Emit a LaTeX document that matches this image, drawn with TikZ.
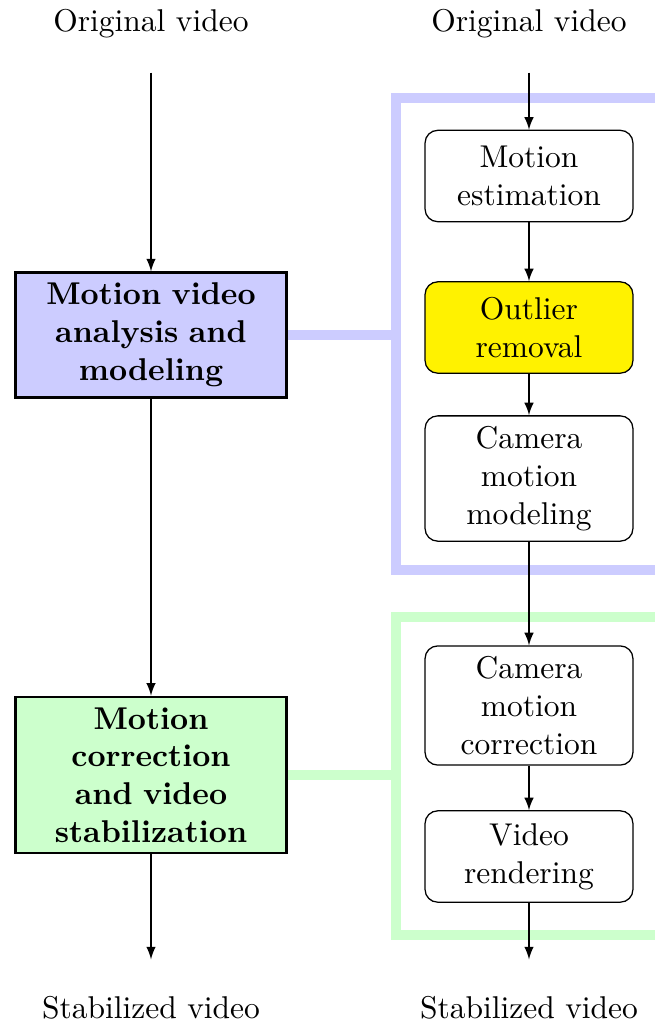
\documentclass[tikz,border=0pt]{standalone}
\usepackage{tikz}
\usetikzlibrary{arrows,positioning,backgrounds}
\usepackage{xcolor}

\begin{document}
\begin{tikzpicture}[
  x=0.3175pt, y=-0.3175pt,
  io/.style={align=center, minimum height=30.5pt},
  stage/.style={rectangle, draw, thick, minimum width=86pt, text width=68pt, align=center, font=\bfseries},
  substep/.style={rectangle, draw, rounded corners=4pt, minimum width=66pt, text width=58pt, minimum height=29pt, align=center},
  arr/.style={-latex},
  frame/.style={line width=3.2pt}
]
  \useasboundingbox (0,0) rectangle (655,1025);

  % left column
  \node[io] (origL) at (151,24) {Original video};
  \node[stage, fill=blue!20] (analysis) at (151,335) {Motion video analysis and modeling};
  \node[stage, fill=green!20] (correct) at (151,775) {Motion correction and video stabilization};
  \node[io] (stabL) at (151,1008) {Stabilized video};

  % right column
  \node[io] (origR) at (529,24) {Original video};
  \node[substep] (estim) at (529,176) {Motion estimation};
  \node[substep, fill=yellow] (outlier) at (529,327.5) {Outlier removal};
  \node[substep] (camodel) at (529,478.5) {Camera motion modeling};
  \node[substep] (camcorr) at (529,705.5) {Camera motion correction};
  \node[substep] (render) at (529,856.5) {Video rendering};
  \node[io] (stabR) at (529,1008) {Stabilized video};

  \draw[arr] (origL) -- (analysis);
  \draw[arr] (analysis) -- (correct);
  \draw[arr] (correct) -- (stabL);

  \draw[arr] (origR) -- (estim);
  \draw[arr] (estim) -- (outlier);
  \draw[arr] (outlier) -- (camodel);
  \draw[arr] (camodel) -- (camcorr);
  \draw[arr] (camcorr) -- (render);
  \draw[arr] (render) -- (stabR);

  % brackets grouping the sub-steps
  \begin{scope}[on background layer]
    \draw[frame, blue!20] (655,98) -- (396,98) -- (396,570) -- (655,570);
    \draw[frame, blue!20] (analysis.east) -- ++(110,0);
    \draw[frame, green!20] (655,617) -- (396,617) -- (396,935) -- (655,935);
    \draw[frame, green!20] (correct.east) -- ++(110,0);
  \end{scope}
\end{tikzpicture}
\end{document}
